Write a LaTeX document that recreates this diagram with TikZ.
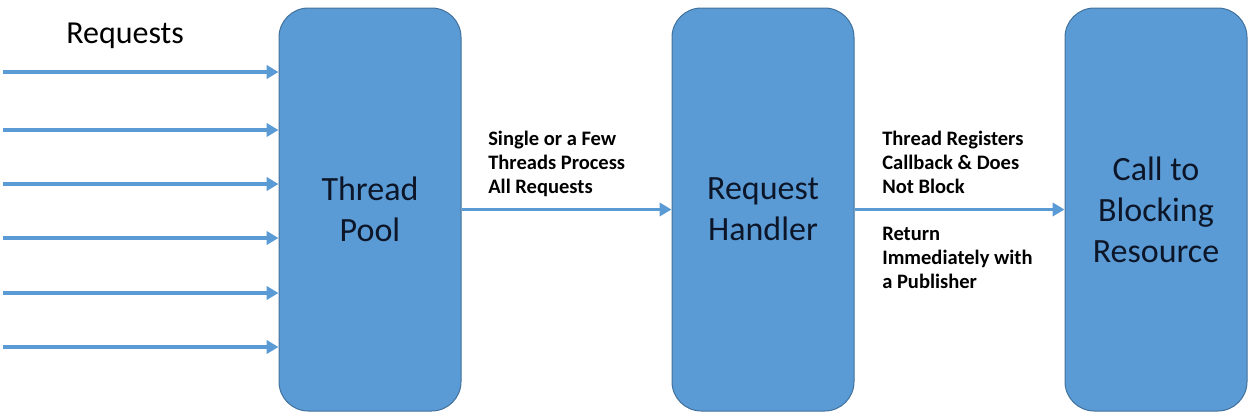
\documentclass[tikz,border=0pt]{standalone}
\usepackage{fontspec}
\setmainfont{Carlito}
\usetikzlibrary{arrows.meta}
\definecolor{boxblue}{HTML}{5B9BD5}
\definecolor{boxedge}{HTML}{41719C}
\definecolor{darktext}{RGB}{12,22,40}
\tikzset{
  bigbox/.style={draw=boxedge, line width=0.75pt, fill=boxblue, rounded corners=22pt,
    minimum width=136.5pt, minimum height=302.25pt, inner sep=0pt, align=center,
    text=darktext, font=\fontsize{25.5}{30.75}\selectfont},
  flow/.style={draw=boxblue, line width=2.8pt, -{Triangle[length=9pt,width=10pt]}},
  lab/.style={anchor=base west, align=left, inner sep=0pt, text=black,
    font=\bfseries\fontsize{15.4}{18}\selectfont}
}
\begin{document}
\begin{tikzpicture}[x=0.75pt,y=-0.75pt]
\useasboundingbox (0,0) rectangle (1259,419);
\node[bigbox] (tp) at (370,209.5) {Thread\\Pool};
\node[bigbox] (rh) at (763,209.5) {Request\\Handler};
\node[bigbox] (cb) at (1156,209.5) {Call to\\Blocking\\Resource};
\node[anchor=base west, inner sep=0pt, font=\fontsize{24}{28}\selectfont] (req) at (66,43.5) {Requests};
\foreach \i/\y in {1/72,2/130,3/184,4/238,5/293,6/347}{
  \coordinate (r\i) at (3,\y);
  \draw[flow] (r\i) -- (r\i -| tp.west);
}
\draw[flow] (tp.east) -- (rh.west);
\draw[flow] (rh.east) -- (cb.west);
\node[lab] (l1) at (488,193) {Single or a Few\\Threads Process\\All Requests};
\node[lab] (l2) at (882,193) {Thread Registers\\Callback \& Does\\Not Block};
\node[lab] (l3) at (882,288) {Return\\Immediately with\\a Publisher};
\end{tikzpicture}
\end{document}
